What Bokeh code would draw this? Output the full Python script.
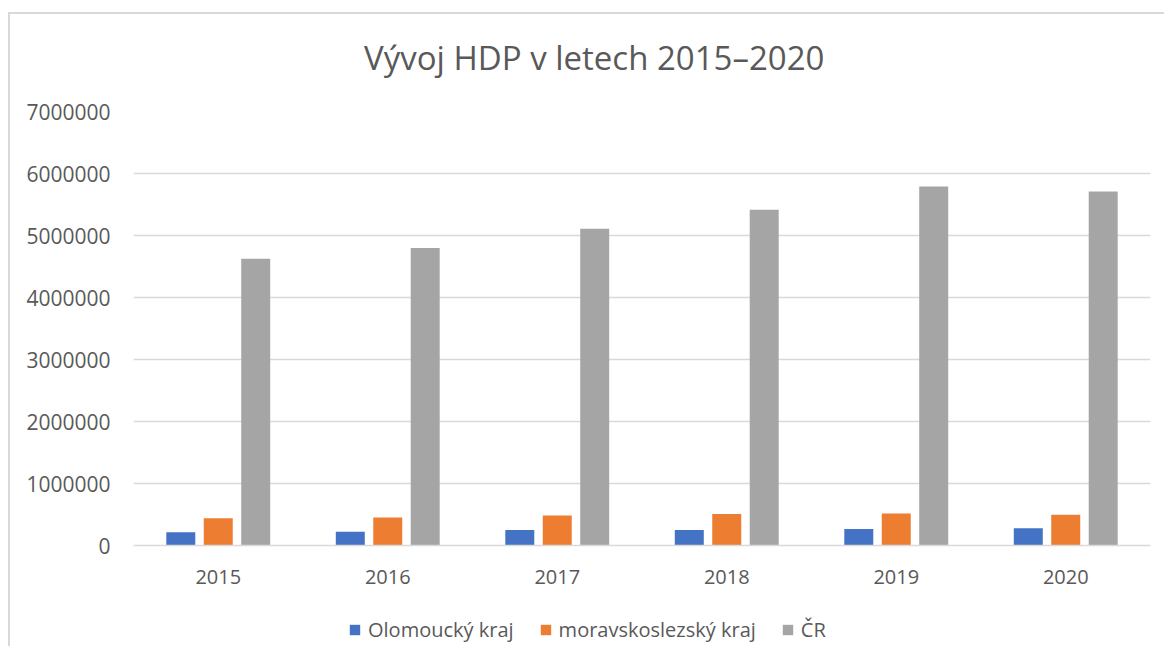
from bokeh.plotting import figure
from bokeh.layouts import column
from bokeh.models import (Legend, LegendItem, FactorRange, Range1d, NumeralTickFormatter,
                          FixedTicker, Label)
from bokeh.transform import dodge
from bokeh.embed import file_html
from bokeh.resources import INLINE
from bokeh.models import ColumnDataSource

title_text = "Vývoj HDP v letech 2015–2020"
years = ["2015", "2016", "2017", "2018", "2019", "2020"]
olomoucky = [215000, 222000, 248000, 252000, 268000, 278000]
moravskoslezsky = [440000, 452000, 482000, 510000, 515000, 495000]
cr = [4625000, 4800000, 5110000, 5415000, 5790000, 5710000]
series_names = ["Olomoucký kraj", "moravskoslezský kraj", "ČR"]
colors = ["#4472C4", "#ED7D31", "#A5A5A5"]
y_ticks = [0, 1000000, 2000000, 3000000, 4000000, 5000000, 6000000, 7000000]

FONT = "Open Sans"
TXT = "#595959"
W = 1154

src = ColumnDataSource(dict(year=years, a=olomoucky, b=moravskoslezsky, c=cr))

# title strip (its frame is aligned with the chart's frame by the column layout)
tp = figure(width=W, height=82, x_range=Range1d(0, 1), y_range=Range1d(0, 1),
            output_backend="svg", toolbar_location=None,
            min_border_left=0, min_border_right=0, min_border_top=0, min_border_bottom=0)
tp.outline_line_color = None
tp.axis.visible = False
tp.grid.visible = False
tp.add_layout(Label(x=0.453, y=0.476, text=title_text, text_align="center", text_baseline="middle",
                    text_font=FONT, text_font_size="33px", text_color=TXT))

# main chart
p = figure(width=W, height=504, x_range=FactorRange(*years), y_range=Range1d(0, 7000000),
           output_backend="svg", toolbar_location=None,
           min_border_left=123, min_border_right=14, min_border_top=15, min_border_bottom=55)
p.outline_line_color = None

for key, off, col in zip(["a", "b", "c"], [-0.221, 0.0, 0.221], colors):
    p.vbar(x=dodge("year", off, range=p.x_range), top=key, width=0.171, source=src,
           fill_color=col, line_color=None)

p.xgrid.grid_line_color = None
p.ygrid.grid_line_color = "#d9d9d9"
p.ygrid.grid_line_width = 1.5
p.yaxis.ticker = FixedTicker(ticks=y_ticks)
p.yaxis.formatter = NumeralTickFormatter(format="0")
for ax in (p.xaxis[0], p.yaxis[0]):
    ax.major_tick_line_color = None
    ax.minor_tick_line_color = None
    ax.major_label_text_font = FONT
    ax.major_label_text_color = TXT
p.xaxis.major_label_text_font_size = "20px"
p.yaxis.major_label_text_font_size = "21px"
p.yaxis.axis_line_color = None
p.xaxis.axis_line_color = "#d9d9d9"
p.xaxis.axis_line_width = 1.5
p.yaxis.major_label_standoff = 17
p.xaxis.major_label_standoff = 18

# legend strip below the chart: same series, drawn out of view, only the legend shows
lp = figure(width=W, height=46, x_range=FactorRange(*years), y_range=Range1d(1e9, 2e9),
            output_backend="svg", toolbar_location=None,
            min_border_left=0, min_border_right=0, min_border_top=13, min_border_bottom=0)
lp.outline_line_color = None
lp.axis.visible = False
lp.grid.visible = False
sw = []
for key, col in zip(["a", "b", "c"], colors):
    sw.append(lp.vbar(x="year", top=key, width=0.0, source=src, fill_color=col, line_color=None))
legend = Legend(items=[LegendItem(label=n, renderers=[rr]) for n, rr in zip(series_names, sw)],
                orientation="horizontal", location=(215, 3),
                label_text_font=FONT, label_text_font_size="20px", label_text_color=TXT,
                glyph_width=13, glyph_height=13, spacing=25, label_standoff=7,
                border_line_color=None, background_fill_alpha=0, margin=0, padding=0)
lp.add_layout(legend, "center")

layout = column(tp, p, lp, margin=(12, 0, 0, 8), spacing=0,
                styles={"border-left": "2px solid #d9d9d9", "border-top": "2px solid #d9d9d9"})

open("out.html", "w").write(file_html(layout, INLINE))
